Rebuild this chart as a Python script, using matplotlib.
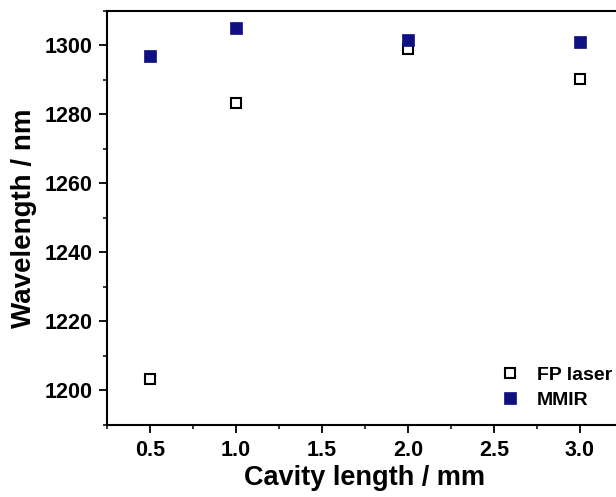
import matplotlib
matplotlib.use("Agg")
import matplotlib.pyplot as plt
from matplotlib.ticker import MultipleLocator

cavity_length = [0.5, 1.0, 2.0, 3.0]
fp_laser = [1203.2, 1283.3, 1299.0, 1290.3]
mmir = [1296.8, 1305.0, 1301.5, 1301.0]

x_ticks = [0.5, 1.0, 1.5, 2.0, 2.5, 3.0]
y_ticks = [1200, 1220, 1240, 1260, 1280, 1300]

plt.rcParams['font.family'] = ['Liberation Sans', 'DejaVu Sans']
plt.rcParams['font.weight'] = 'bold'

fig = plt.figure(figsize=(6.16, 4.97), dpi=100)
ax = fig.add_axes([107/616, 1 - 425/497, 516/616, (425 - 10.7)/497])

ax.plot(cavity_length, fp_laser, linestyle='none', marker='s', markersize=6.5,
        markerfacecolor='white', markeredgecolor='black', markeredgewidth=1.5,
        label='FP laser')
ax.plot(cavity_length, mmir, linestyle='none', marker='s', markersize=8.3,
        markerfacecolor='#101080', markeredgecolor='#101080', markeredgewidth=0.5,
        label='MMIR')

ax.set_xlim(0.25, 3.25)
ax.set_ylim(1190, 1310)
ax.set_xticks(x_ticks)
ax.set_xticklabels([f'{v:.1f}' for v in x_ticks])
ax.xaxis.set_minor_locator(MultipleLocator(0.25))
ax.set_yticks(y_ticks)
ax.set_yticklabels([str(v) for v in y_ticks])
ax.yaxis.set_minor_locator(MultipleLocator(10))

for s in ['top', 'left', 'bottom', 'right']:
    ax.spines[s].set_linewidth(1.5)
ax.tick_params(which='major', direction='out', length=5.5, width=1.3)
ax.tick_params(axis='x', which='major', pad=5)
ax.tick_params(axis='y', which='major', pad=5)
ax.tick_params(which='minor', direction='out', length=3, width=1.1)
for lab in ax.get_xticklabels() + ax.get_yticklabels():
    lab.set_fontweight('bold')
    lab.set_fontsize(15.5)

ax.set_xlabel('Cavity length / mm', fontsize=19.5, fontweight='bold', labelpad=3)
ax.set_ylabel('Wavelength / nm', fontsize=20, fontweight='bold', labelpad=5.5)

leg = ax.legend(loc='center left', bbox_to_anchor=(500/616, 1 - 387.5/497),
                bbox_transform=fig.transFigure, frameon=False, fontsize=14,
                handlelength=1.0, handletextpad=0.9, labelspacing=0.35,
                borderaxespad=0, borderpad=0)
for t in leg.get_texts():
    t.set_fontweight('bold')

fig.savefig('out.png', dpi=100)
